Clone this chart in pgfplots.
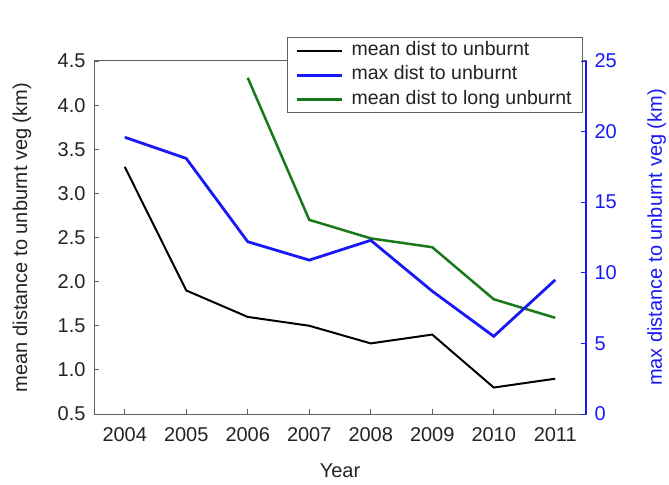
\documentclass[border=0pt]{standalone}
\usepackage{fontspec}
\setmainfont{Liberation Sans}
\usepackage{pgfplots}
\pgfplotsset{compat=1.18}
\definecolor{myblue}{RGB}{25,25,245}
\definecolor{mygreen}{RGB}{25,120,25}
\definecolor{framegray}{RGB}{95,95,95}
\definecolor{txt}{RGB}{35,35,35}
\begin{document}
\begin{tikzpicture}
\pgfplotsset{
  every axis/.append style={font=\fontsize{20}{24}\selectfont, text=txt},
  /pgf/number format/assume math mode=true,
}
\begin{axis}[
  name=main,
  scale only axis, width=492pt, height=353pt,
  xmin=2003.5, xmax=2011.5, ymin=0.5, ymax=4.5,
  xtick={2004,2005,2006,2007,2008,2009,2010,2011},
  ytick={0.5,1.0,1.5,2.0,2.5,3.0,3.5,4.0,4.5},
  xtick pos=left, ytick pos=left,
  tick align=inside, major tick length=5pt,
  xticklabel style={/pgf/number format/1000 sep={}, anchor=center, yshift=-21pt},
  yticklabel style={/pgf/number format/.cd, fixed, fixed zerofill, precision=1, /tikz/.cd, anchor=east, xshift=-5pt},
  axis line style={framegray, line width=1pt},
  tick style={framegray, line width=0.8pt},
  xlabel={Year},
  xlabel style={at={(axis description cs:0.5,-0.1606)}, anchor=center},
  ylabel={mean distance to unburnt veg (km)},
  ylabel style={at={(axis description cs:-0.1464,0.5)}, anchor=center, rotate=0},
  legend style={at={(1,1)}, anchor=north east, xshift=-3pt, yshift=24pt,
    draw=framegray, fill=white, line width=0.8pt,
    inner xsep=8pt, inner ysep=1pt, row sep=0pt,
    nodes={inner sep=3pt, text height=14pt, text depth=4.5pt},
    /tikz/every odd column/.append style={column sep=5pt},
    font=\fontsize{19.5}{23}\selectfont},
  legend cell align=left,
  legend image code/.code={\draw[#1] (0pt,0pt) -- (45pt,0pt);},
]
\addplot[black, line width=2pt] coordinates {
  (2004,3.3) (2005,1.9) (2006,1.6) (2007,1.5) (2008,1.3) (2009,1.4) (2010,0.8) (2011,0.9)};
\addlegendentry{mean dist to unburnt}
\addlegendimage{myblue, line width=2.8pt}
\addlegendentry{max dist to unburnt}
\addplot[mygreen, line width=2.5pt] coordinates {
  (2006,4.31) (2007,2.70) (2008,2.49) (2009,2.39) (2010,1.80) (2011,1.59)};
\addlegendentry{mean dist to long unburnt}
\end{axis}
\begin{axis}[
  scale only axis, width=492pt, height=353pt,
  xmin=2003.5, xmax=2011.5, ymin=0, ymax=25,
  hide x axis,
  axis y line*=right,
  ytick={0,5,10,15,20,25},
  tick align=inside, major tick length=5pt,
  y axis line style={myblue, line width=2pt},
  ytick style={myblue, line width=0.8pt},
  yticklabel style={text=myblue, anchor=west, xshift=5pt},
  ylabel={max distance to unburnt veg (km)},
  ylabel style={text=myblue, at={(axis description cs:1.1437,0.5)}, anchor=center},
]
\addplot[myblue, line width=2.8pt] coordinates {
  (2004,19.6) (2005,18.1) (2006,12.2) (2007,10.9) (2008,12.3) (2009,8.7) (2010,5.5) (2011,9.5)};
\end{axis}
\pgfresetboundingbox
\path ([shift={(-94pt,-70pt)}]main.south west) rectangle ([shift={(83pt,61pt)}]main.north east);
\end{tikzpicture}
\end{document}
